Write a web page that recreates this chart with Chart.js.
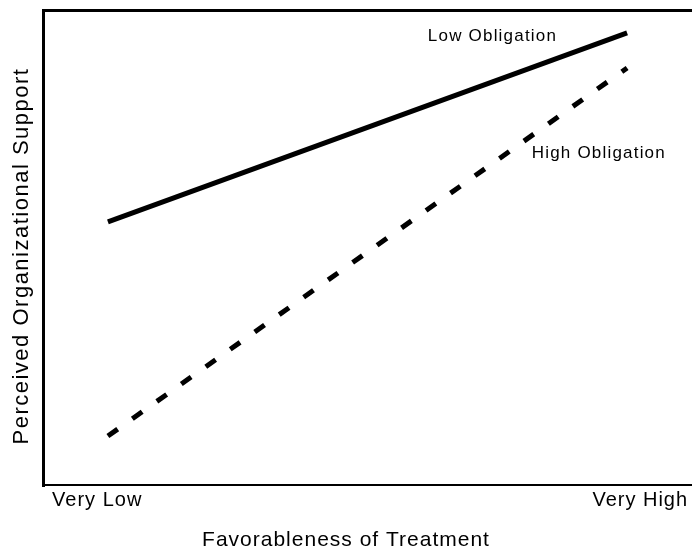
<!DOCTYPE html>
<html><head><meta charset="utf-8">
<style>html,body{margin:0;padding:0;background:#fff}#wrap{width:692px;height:550px}</style>
<script src="https://cdn.jsdelivr.net/npm/chart.js@4"></script>
</head><body><div id="wrap"><canvas id="c" width="692" height="550"></canvas></div>
<script>
// Data (0-10 x scale, 0-100 y scale)
const treatment = [1, 9];              // Very Low, Very High levels
const lowObligation = [55.4, 95.2];
const highObligation = [10.3, 87.8];
const tickValues = [0.14, 9.94];
const tickLabels = ['Very Low', 'Very High'];
const seriesNames = ['Low Obligation', 'High Obligation'];
const labelAnchors = [[5.93, 93.5], [7.53, 68.8]];
const xTitle = 'Favorableness of Treatment';
const yTitle = 'Perceived Organizational Support';

const FONT = '"Liberation Sans", Arial, Helvetica, sans-serif';

const textPlugin = {
  id: 'texts',
  beforeDraw(chart) { chart.ctx.letterSpacing = '1px'; },
  afterDraw(chart) {
    const ctx = chart.ctx, xs = chart.scales.x, ys = chart.scales.y;
    ctx.save();
    ctx.fillStyle = '#000';
    ctx.textBaseline = 'alphabetic';
    // series labels
    ctx.font = '17px ' + FONT;
    ctx.letterSpacing = '1.2px';
    ctx.textAlign = 'left';
    seriesNames.forEach((n, i) => {
      ctx.fillText(n, xs.getPixelForValue(labelAnchors[i][0]), ys.getPixelForValue(labelAnchors[i][1]));
    });
    // x title
    ctx.font = '21px ' + FONT;
    ctx.letterSpacing = '1px';
    ctx.textAlign = 'center';
    ctx.fillText(xTitle, 346, 546);
    // y title
    ctx.save();
    ctx.translate(28, 256);
    ctx.rotate(-Math.PI / 2);
    ctx.font = '22px ' + FONT;
    ctx.letterSpacing = '1.5px';
    ctx.fillText(yTitle, 0, 0);
    ctx.restore();
    ctx.restore();
  }
};

new Chart(document.getElementById('c'), {
  type: 'line',
  data: {
    datasets: [
      { label: seriesNames[0], data: treatment.map((x, i) => ({ x, y: lowObligation[i] })),
        borderColor: '#000', borderWidth: 5, pointRadius: 0, borderCapStyle: 'butt', fill: false },
      { label: seriesNames[1], data: treatment.map((x, i) => ({ x, y: highObligation[i] })),
        borderColor: '#000', borderWidth: 5, pointRadius: 0, borderDash: [12, 18], borderCapStyle: 'butt', fill: false }
    ]
  },
  options: {
    responsive: false,
    animation: false,
    devicePixelRatio: 1,
    layout: { padding: { top: 10, right: 0, left: 0, bottom: 0 } },
    plugins: { legend: { display: false }, tooltip: { enabled: false }, title: { display: false } },
    scales: {
      x: {
        type: 'linear', min: 0, max: 10,
        afterBuildTicks: s => { s.ticks = tickValues.map(v => ({ value: v })); },
        afterFit: s => { s.height = 65; },
        ticks: { callback: (v, i) => tickLabels[i], align: 'inner', maxRotation: 0, autoSkip: false,
                 color: '#000', font: { family: FONT, size: 20 }, padding: 3 },
        grid: { display: false, drawTicks: false },
        border: { color: '#000', width: 2 }
      },
      y: {
        type: 'linear', min: 0, max: 100,
        afterBuildTicks: s => { s.ticks = [{ value: 0 }, { value: 100 }]; },
        afterFit: s => { s.width = 43; },
        ticks: { display: false },
        grid: { drawTicks: false, lineWidth: 3, color: c => (c.tick && c.tick.value === 100) ? '#000' : 'rgba(0,0,0,0)' },
        border: { color: '#000', width: 3 }
      }
    }
  },
  plugins: [textPlugin]
});
</script>
</body></html>
